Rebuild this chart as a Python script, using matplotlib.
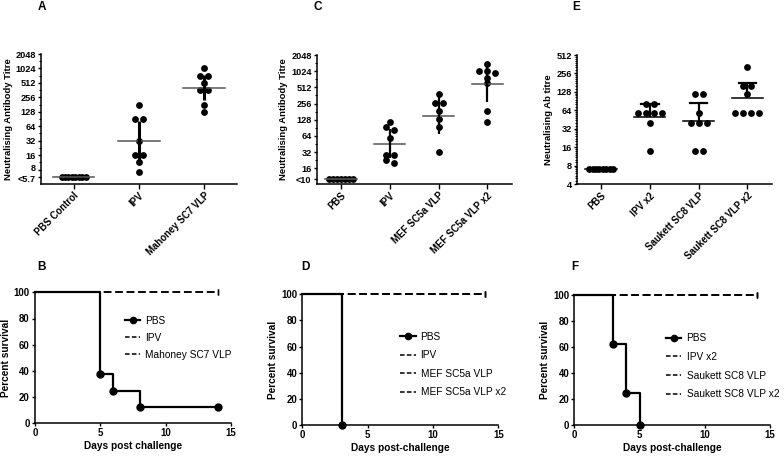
import matplotlib
matplotlib.use('Agg')
import matplotlib.pyplot as plt
import matplotlib.transforms as mtransforms
import numpy as np
from matplotlib.lines import Line2D
from matplotlib.ticker import FixedLocator, NullFormatter

plt.rcParams['font.family'] = ['Liberation Sans', 'DejaVu Sans']

# ---------------- data ----------------
# Panel A
a_groups = ['PBS Control', 'IPV', 'Mahoney SC7 VLP']
a_pbs = [5.7] * 8
a_ipv = [181, 91, 91, 32, 16, 16, 11.3, 7.0]
a_mah = [1024, 724, 724, 512, 362, 362, 181, 128]
a_mean = [5.7, 32, 410]
a_err_lo = [5.7, 11, 220]
a_err_hi = [5.7, 83, 750]
a_yticks = [5.7, 8, 16, 32, 64, 128, 256, 512, 1024, 2048]
a_yticklabels = ['<5.7', '8', '16', '32', '64', '128', '256', '512', '1024', '2048']

# Panel C
c_groups = ['PBS', 'IPV', 'MEF SC5a VLP', 'MEF SC5a VLP x2']
c_pbs = [10] * 7
c_ipv = [115, 93, 83, 58, 28, 28, 23, 20]
c_mef = [380, 267, 267, 186, 131, 93, 32]
c_mef2 = [1378, 1045, 1045, 935, 755, 609, 189, 115]
c_mean = [10, 45.5, 152, 592]
c_err_lo = [10, 24.6, 70, 278]
c_err_hi = [10, 85, 370, 1390]
c_yticks = [10, 16, 32, 64, 128, 256, 512, 1024, 2048]
c_yticklabels = ['<10', '16', '32', '64', '128', '256', '512', '1024', '2048']

# Panel E
e_groups = ['PBS', 'IPV x2', 'Saukett SC8 VLP', 'Saukett SC8 VLP x2']
e_pbs = [7] * 8
e_ipv = [80, 80, 57, 57, 57, 57, 40, 14]
e_sc8 = [117, 117, 57, 40, 40, 40, 14, 14]
e_sc8x2 = [330, 161, 161, 117, 57, 57, 57, 57]
e_mean = [7, 50.5, 42.8, 103]
e_err_hi = [7, 81, 83, 181]
e_yticks = [4, 8, 16, 32, 64, 128, 256, 512]

# Survival panels
b_labels = ['PBS', 'IPV', 'Mahoney SC7 VLP']
b_pbs_days = [0, 5, 6, 8, 14]
b_pbs_surv = [100, 37.5, 25, 12.5, 12.5]
b_other_days = [0, 14]
b_other_surv = [100, 100]

d_labels = ['PBS', 'IPV', 'MEF SC5a VLP', 'MEF SC5a VLP x2']
d_pbs_days = [0, 3]
d_pbs_surv = [100, 0]
d_other_days = [0, 14]
d_other_surv = [100, 100]

f_labels = ['PBS', 'IPV x2', 'Saukett SC8 VLP', 'Saukett SC8 VLP x2']
f_pbs_days = [0, 3, 4, 5]
f_pbs_surv = [100, 62.5, 25, 0]
f_other_days = [0, 14]
f_other_surv = [100, 100]

# ---------------- figure ----------------
W, H = 784, 458
fig = plt.figure(figsize=(W / 100, H / 100), dpi=100)


def px_axes(l, t, r, b):
    return fig.add_axes([l / W, 1 - b / H, (r - l) / W, (b - t) / H])


TICK_FS = 6.6
LAB_FS = 6.8
CAT_FS = 6.9


def style(ax):
    for s in ['top', 'right']:
        ax.spines[s].set_visible(False)
    for s in ['left', 'bottom']:
        ax.spines[s].set_linewidth(1.1)
    ax.tick_params(direction='out', length=2.5, width=1.0, labelsize=TICK_FS, pad=1.2)
    ax.tick_params(which='minor', length=1.6, width=0.8)


def swarm_offsets(ax, x0, vals, D=8.0, row_gap=4.0, maxw=24.0):
    vals = np.asarray(vals, float)
    pts = ax.transData.transform(np.column_stack([np.full(len(vals), x0), vals]))
    ys = pts[:, 1]
    ppu = ax.transData.transform((1, 1))[0] - ax.transData.transform((0, 1))[0]
    order = np.argsort(-ys, kind='stable')
    rows = []
    for i in order:
        if rows and abs(ys[i] - ys[rows[-1][0]]) < row_gap:
            rows[-1].append(i)
        else:
            rows.append([i])
    offs = np.zeros(len(vals))
    for r in rows:
        n = len(r)
        sp = D if n == 1 else min(D, maxw / (n - 1))
        for k, i in enumerate(r):
            offs[i] = (k - (n - 1) / 2) * sp / ppu
    return offs


def dot_panel(ax, groups, data, mean, lo, hi, ylim, yticks, yticklabels, ylabel,
              err_lw, mean_color, caps=False, minor=None):
    ax.set_yscale('log', base=2)
    ax.set_ylim(*ylim)
    ax.set_xlim(-0.5, len(groups) - 0.5)
    style(ax)
    ax.set_yticks(yticks)
    ax.set_yticklabels(yticklabels, fontweight='bold')
    ax.yaxis.set_minor_locator(FixedLocator(minor if minor is not None else []))
    ax.yaxis.set_minor_formatter(NullFormatter())
    ax.set_xticks(range(len(groups)))
    ax.set_xticklabels(groups, rotation=45, ha='right', rotation_mode='anchor',
                       fontsize=CAT_FS, fontweight='bold')
    ax.tick_params(axis='x', length=3.5)
    ax.set_ylabel(ylabel, fontsize=LAB_FS, fontweight='bold', labelpad=2)
    for i, vals in enumerate(data):
        offs = swarm_offsets(ax, i, vals)
        ax.scatter(i + offs, vals, s=24, color='black', zorder=3, linewidths=0)
        ax.plot([i - 0.32, i + 0.32], [mean[i], mean[i]], color=mean_color, lw=1.1, zorder=4)
        if hi[i] != mean[i]:
            ax.plot([i, i], [lo[i], hi[i]], color='black', lw=err_lw, zorder=4,
                    solid_capstyle='butt')
            if caps:
                ax.plot([i - 0.18, i + 0.18], [hi[i], hi[i]], color='black', lw=err_lw, zorder=4)


# Top panels
axA = px_axes(41, 54, 236.7, 184)
a_minor = [2 ** (k + 0.5) for k in range(2, 11)]
dot_panel(axA, a_groups, [a_pbs, a_ipv, a_mah], a_mean, a_err_lo, a_err_hi,
          (4, 2048), a_yticks, a_yticklabels, 'Neutralising Antibody Titre',
          2.2, '#555555', minor=a_minor)
# nudge the two crowded bottom labels apart a little
ylbls = axA.get_yticklabels()
ylbls[0].set_transform(ylbls[0].get_transform() +
                       mtransforms.ScaledTranslation(0, -1.5 / 72, fig.dpi_scale_trans))
ylbls[1].set_transform(ylbls[1].get_transform() +
                       mtransforms.ScaledTranslation(0, 1.2 / 72, fig.dpi_scale_trans))

axC = px_axes(316.7, 55, 511.7, 184)
c_minor = [2 ** (k + 0.5) for k in range(4, 11)]
dot_panel(axC, c_groups, [c_pbs, c_ipv, c_mef, c_mef2], c_mean, c_err_lo, c_err_hi,
          (8.2, 2048), c_yticks, c_yticklabels, 'Neutralising Antibody Titre',
          1.6, '#555555', minor=c_minor)

axE = px_axes(576.7, 55, 771.7, 184)
e_minor = [2 ** k * (1 + j / 8) for k in range(2, 9) for j in range(1, 8)]
dot_panel(axE, e_groups, [e_pbs, e_ipv, e_sc8, e_sc8x2], e_mean, e_mean, e_err_hi,
          (4, 512), e_yticks, [str(v) for v in e_yticks], 'Neutralising Ab titre',
          1.6, 'black', caps=True, minor=e_minor)


def surv_panel(ax, labels, pbs_days, pbs_surv, other_days, other_surv, xlabel, leg_anchor, leg_sp):
    ax.set_xlim(0, 15)
    ax.set_ylim(0, 100)
    style(ax)
    ax.set_xticks([0, 5, 10, 15])
    ax.set_xticklabels(['0', '5', '10', '15'], fontweight='bold', fontsize=6.9)
    ax.set_yticks([0, 20, 40, 60, 80, 100])
    ax.set_yticklabels(['0', '20', '40', '60', '80', '100'], fontweight='bold', fontsize=6.9)
    ax.set_xlabel(xlabel, fontsize=7.3, fontweight='bold', labelpad=2)
    ax.set_ylabel('Percent survival', fontsize=7.3, fontweight='bold', labelpad=2)
    handles = []
    for _ in labels[1:]:
        ax.step(other_days, other_surv, where='post', color='black', lw=1.1,
                linestyle=(0, (5, 2.5)), clip_on=False, zorder=3)
        ax.plot(other_days[-1:], other_surv[-1:], marker='|', markersize=4,
                color='black', clip_on=False, zorder=3)
        handles.append(Line2D([], [], color='black', lw=1.1, linestyle=(0, (3, 1.5))))
    ax.step(pbs_days, pbs_surv, where='post', color='black', lw=1.6, clip_on=False, zorder=4)
    ax.plot(pbs_days[1:], pbs_surv[1:], 'o', color='black', markersize=5,
            clip_on=False, zorder=5)
    handles.insert(0, Line2D([], [], color='black', lw=1.6, marker='o', markersize=4.5))
    ax.legend(handles, labels, loc='upper left', bbox_to_anchor=leg_anchor, frameon=False,
              fontsize=7.3, handlelength=1.5, handletextpad=0.5, labelspacing=leg_sp,
              borderpad=0, borderaxespad=0)


axB = px_axes(35, 292.3, 231, 423.3)
surv_panel(axB, b_labels, b_pbs_days, b_pbs_surv, b_other_days, b_other_surv,
           'Days post challenge', (0.46, 0.82), 0.68)

axD = px_axes(302.3, 294.3, 498.3, 425)
surv_panel(axD, d_labels, d_pbs_days, d_pbs_surv, d_other_days, d_other_surv,
           'Days post-challenge', (0.5, 0.715), 0.85)

axF = px_axes(574.3, 295, 770, 425)
surv_panel(axF, f_labels, f_pbs_days, f_pbs_surv, f_other_days, f_other_surv,
           'Days post-challenge', (0.47, 0.705), 0.85)

# Panel letters
for letter, (x, y) in zip('ABCDEF', [(42, 7.5), (42, 267), (318, 7.5), (305.7, 267), (576, 7.5), (575, 267)]):
    fig.text(x / W, 1 - y / H, letter, fontsize=8.5, fontweight='bold', ha='center', va='center')

fig.savefig('out.png', dpi=100)
